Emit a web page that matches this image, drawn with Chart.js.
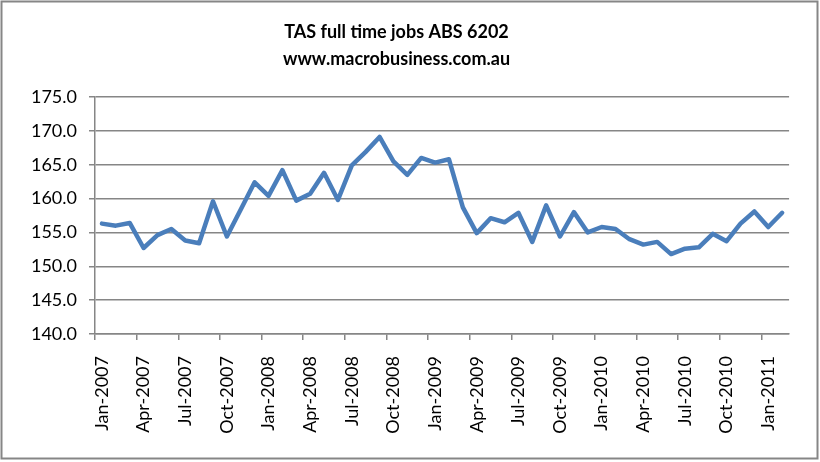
<!DOCTYPE html>
<html>
<head>
<meta charset="utf-8">
<script src="https://cdn.jsdelivr.net/npm/chart.js@4"></script>
<style>
  html, body { margin:0; padding:0; background:#fff; }
  #wrap { width:820px; height:462px; }
</style>
</head>
<body>
<div id="wrap"><canvas id="chart" width="820" height="462"></canvas></div>
<script>
  // months, Jan-2007 .. Feb-2011
  const months = [
    'Jan-2007','Feb-2007','Mar-2007','Apr-2007','May-2007','Jun-2007','Jul-2007','Aug-2007','Sep-2007','Oct-2007','Nov-2007','Dec-2007',
    'Jan-2008','Feb-2008','Mar-2008','Apr-2008','May-2008','Jun-2008','Jul-2008','Aug-2008','Sep-2008','Oct-2008','Nov-2008','Dec-2008',
    'Jan-2009','Feb-2009','Mar-2009','Apr-2009','May-2009','Jun-2009','Jul-2009','Aug-2009','Sep-2009','Oct-2009','Nov-2009','Dec-2009',
    'Jan-2010','Feb-2010','Mar-2010','Apr-2010','May-2010','Jun-2010','Jul-2010','Aug-2010','Sep-2010','Oct-2010','Nov-2010','Dec-2010',
    'Jan-2011','Feb-2011'
  ];
  // full time jobs, thousands
  const jobs = [
    156.3, 156.0, 156.4, 152.7, 154.6, 155.5, 153.8, 153.4, 159.6, 154.4, 158.4, 162.4,
    160.4, 164.2, 159.7, 160.7, 163.8, 159.8, 164.9, 166.9, 169.1, 165.5, 163.5, 166.0,
    165.3, 165.8, 158.7, 154.9, 157.1, 156.5, 157.9, 153.6, 159.0, 154.4, 158.0, 155.0,
    155.8, 155.5, 154.0, 153.2, 153.6, 151.8, 152.6, 152.8, 154.8, 153.7, 156.3, 158.1,
    155.8, 157.9
  ];
  const yMin = 140, yMax = 175, yStep = 5;
  const titleLines = ['TAS full time jobs ABS 6202', 'www.macrobusiness.com.au'];

  const grey = '#868686';
  const FONT = 'Lato, "Open Sans", "Noto Sans", sans-serif';

  // white page + grey frame round the whole chart
  const frame = {
    id:'frame',
    beforeDraw(c){
      const g = c.ctx;
      g.save();
      g.fillStyle = '#fff';
      g.fillRect(0,0,c.width,c.height);
      g.strokeStyle = grey;
      g.lineWidth = 2;
      g.strokeRect(1.5,1.5,c.width-4,c.height-5);
      g.restore();
    }
  };

  new Chart(document.getElementById('chart'), {
    type:'line',
    data:{ labels: months, datasets:[{
      data: jobs, borderColor:'#4a7ebb', borderWidth:4.5, pointRadius:0,
      tension:0, fill:false, borderJoinStyle:'round', borderCapStyle:'round'
    }]},
    options:{
      responsive:false, animation:false, devicePixelRatio:1,
      layout:{ padding:{ left:0, right:27, top:0, bottom:0 } },
      plugins:{
        legend:{ display:false },
        tooltip:{ enabled:false },
        title:{ display:true, text: titleLines, color:'#000',
          font:{ family:FONT, size:18, weight:'bold', lineHeight:1.5 },
          padding:{ top:19, bottom:24 } }
      },
      scales:{
        x:{
          type:'category', offset:true,
          afterFit:(s)=>{ s.height = 128; },
          border:{ display:true, color:grey, width:1.5 },
          grid:{ offset:true, drawOnChartArea:false, drawTicks:true, tickLength:6, lineWidth:1.5,
            color:(ctx)=> (ctx.index !== undefined && ctx.index % 3 === 0) ? grey : 'rgba(0,0,0,0)' },
          ticks:{ autoSkip:false, minRotation:90, maxRotation:90, padding:16, color:'#000',
            font:{ family:FONT, size:18 },
            callback:(v,i)=> i % 3 === 0 ? months[i] : '' }
        },
        y:{
          min:yMin, max:yMax,
          afterFit:(s)=>{ s.width = 95; },
          border:{ display:true, color:grey, width:1.5 },
          grid:{ color:grey, lineWidth:1.5, drawTicks:true, tickLength:6 },
          ticks:{ stepSize:yStep, padding:12, color:'#000',
            font:{ family:FONT, size:18 },
            callback:(v)=> Number(v).toFixed(1) }
        }
      }
    },
    plugins:[frame]
  });
</script>
</body>
</html>
